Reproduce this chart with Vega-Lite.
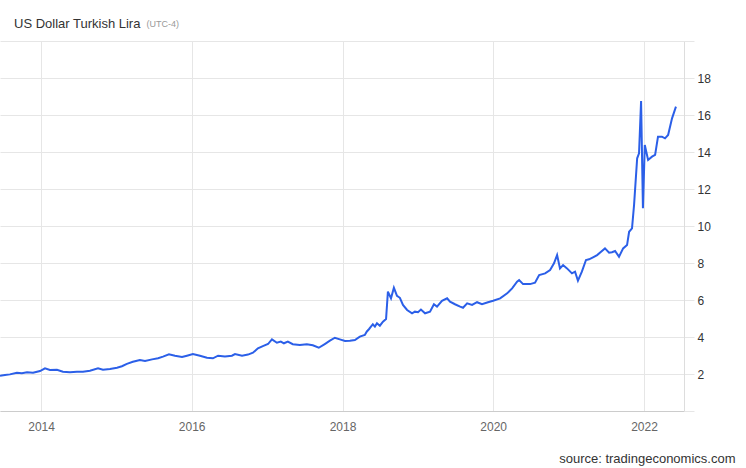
{
  "$schema": "https://vega.github.io/schema/vega-lite/v6.json",
  "width": 684,
  "height": 370,
  "autosize": {"type": "none"},
  "padding": {"left": 0, "top": 41, "right": 62, "bottom": 57},
  "background": "white",
  "title": {
    "text": "US Dollar Turkish Lira",
    "anchor": "start",
    "frame": "group",
    "font": "Liberation Sans",
    "fontSize": 13,
    "fontWeight": "normal",
    "color": "#333333",
    "baseline": "alphabetic",
    "dx": 14,
    "offset": 0,
    "dy": 22
  },
  "config": {
    "view": {"stroke": null},
    "font": "Liberation Sans"
  },
  "data": {
    "values": [
      {"d": "2013-06-16", "v": 1.91}, {"d": "2013-07-10", "v": 1.95}, {"d": "2013-08-03", "v": 1.98},
      {"d": "2013-09-06", "v": 2.07}, {"d": "2013-09-30", "v": 2.04}, {"d": "2013-10-25", "v": 2.09},
      {"d": "2013-11-23", "v": 2.07}, {"d": "2013-12-27", "v": 2.16}, {"d": "2014-01-20", "v": 2.31},
      {"d": "2014-02-13", "v": 2.22}, {"d": "2014-03-19", "v": 2.23}, {"d": "2014-04-17", "v": 2.12},
      {"d": "2014-05-21", "v": 2.09}, {"d": "2014-06-24", "v": 2.12}, {"d": "2014-07-23", "v": 2.12},
      {"d": "2014-08-26", "v": 2.18}, {"d": "2014-10-04", "v": 2.31}, {"d": "2014-10-28", "v": 2.23},
      {"d": "2014-12-01", "v": 2.27}, {"d": "2015-01-04", "v": 2.34}, {"d": "2015-01-28", "v": 2.42},
      {"d": "2015-02-21", "v": 2.55}, {"d": "2015-03-22", "v": 2.66}, {"d": "2015-04-25", "v": 2.76},
      {"d": "2015-05-20", "v": 2.70}, {"d": "2015-06-23", "v": 2.79}, {"d": "2015-07-22", "v": 2.85},
      {"d": "2015-08-15", "v": 2.94}, {"d": "2015-09-13", "v": 3.06}, {"d": "2015-10-12", "v": 2.99},
      {"d": "2015-11-15", "v": 2.92}, {"d": "2015-12-09", "v": 2.99}, {"d": "2016-01-07", "v": 3.08},
      {"d": "2016-02-10", "v": 2.99}, {"d": "2016-03-15", "v": 2.88}, {"d": "2016-04-13", "v": 2.85},
      {"d": "2016-05-08", "v": 2.99}, {"d": "2016-06-10", "v": 2.94}, {"d": "2016-07-14", "v": 2.99},
      {"d": "2016-07-29", "v": 3.08}, {"d": "2016-09-01", "v": 2.99}, {"d": "2016-09-30", "v": 3.05},
      {"d": "2016-10-24", "v": 3.15}, {"d": "2016-11-17", "v": 3.39}, {"d": "2016-12-11", "v": 3.51},
      {"d": "2017-01-05", "v": 3.62}, {"d": "2017-01-24", "v": 3.87}, {"d": "2017-02-17", "v": 3.69},
      {"d": "2017-03-08", "v": 3.75}, {"d": "2017-03-23", "v": 3.66}, {"d": "2017-04-11", "v": 3.75},
      {"d": "2017-05-05", "v": 3.61}, {"d": "2017-06-08", "v": 3.57}, {"d": "2017-07-12", "v": 3.61},
      {"d": "2017-08-10", "v": 3.55}, {"d": "2017-09-08", "v": 3.42}, {"d": "2017-10-07", "v": 3.62},
      {"d": "2017-11-01", "v": 3.80}, {"d": "2017-11-25", "v": 3.96}, {"d": "2017-12-19", "v": 3.87},
      {"d": "2018-01-13", "v": 3.78}, {"d": "2018-02-06", "v": 3.80}, {"d": "2018-03-02", "v": 3.84},
      {"d": "2018-03-26", "v": 4.02}, {"d": "2018-04-19", "v": 4.11}, {"d": "2018-04-29", "v": 4.30},
      {"d": "2018-05-09", "v": 4.42}, {"d": "2018-05-28", "v": 4.69}, {"d": "2018-06-07", "v": 4.56},
      {"d": "2018-06-17", "v": 4.74}, {"d": "2018-07-01", "v": 4.61}, {"d": "2018-07-16", "v": 4.83},
      {"d": "2018-07-31", "v": 4.97}, {"d": "2018-08-09", "v": 6.45}, {"d": "2018-08-24", "v": 6.09},
      {"d": "2018-09-07", "v": 6.66}, {"d": "2018-09-22", "v": 6.23}, {"d": "2018-10-06", "v": 6.12},
      {"d": "2018-10-21", "v": 5.73}, {"d": "2018-11-10", "v": 5.46}, {"d": "2018-12-04", "v": 5.28},
      {"d": "2018-12-18", "v": 5.37}, {"d": "2019-01-02", "v": 5.34}, {"d": "2019-01-16", "v": 5.48},
      {"d": "2019-02-05", "v": 5.28}, {"d": "2019-03-01", "v": 5.37}, {"d": "2019-03-20", "v": 5.77},
      {"d": "2019-04-04", "v": 5.64}, {"d": "2019-04-28", "v": 5.95}, {"d": "2019-05-23", "v": 6.09},
      {"d": "2019-06-06", "v": 5.91}, {"d": "2019-06-30", "v": 5.77}, {"d": "2019-07-25", "v": 5.64},
      {"d": "2019-08-08", "v": 5.58}, {"d": "2019-08-28", "v": 5.82}, {"d": "2019-09-21", "v": 5.73},
      {"d": "2019-10-15", "v": 5.88}, {"d": "2019-11-08", "v": 5.77}, {"d": "2019-12-07", "v": 5.88},
      {"d": "2020-01-01", "v": 5.96}, {"d": "2020-02-04", "v": 6.09}, {"d": "2020-03-09", "v": 6.36},
      {"d": "2020-04-02", "v": 6.63}, {"d": "2020-04-26", "v": 6.99}, {"d": "2020-05-06", "v": 7.08},
      {"d": "2020-05-25", "v": 6.86}, {"d": "2020-06-28", "v": 6.86}, {"d": "2020-07-22", "v": 6.94},
      {"d": "2020-08-11", "v": 7.35}, {"d": "2020-09-09", "v": 7.44}, {"d": "2020-10-03", "v": 7.62},
      {"d": "2020-10-22", "v": 7.98}, {"d": "2020-11-06", "v": 8.43}, {"d": "2020-11-20", "v": 7.71},
      {"d": "2020-12-05", "v": 7.89}, {"d": "2020-12-24", "v": 7.71}, {"d": "2021-01-17", "v": 7.44},
      {"d": "2021-02-01", "v": 7.53}, {"d": "2021-02-15", "v": 7.04}, {"d": "2021-03-06", "v": 7.53},
      {"d": "2021-03-26", "v": 8.16}, {"d": "2021-04-10", "v": 8.20}, {"d": "2021-04-29", "v": 8.31},
      {"d": "2021-05-19", "v": 8.43}, {"d": "2021-06-07", "v": 8.61}, {"d": "2021-06-26", "v": 8.79},
      {"d": "2021-07-16", "v": 8.56}, {"d": "2021-07-30", "v": 8.58}, {"d": "2021-08-14", "v": 8.65},
      {"d": "2021-09-02", "v": 8.34}, {"d": "2021-09-22", "v": 8.79}, {"d": "2021-10-11", "v": 8.97},
      {"d": "2021-10-21", "v": 9.69}, {"d": "2021-11-04", "v": 9.87}, {"d": "2021-11-14", "v": 11.14},
      {"d": "2021-11-29", "v": 13.66}, {"d": "2021-12-08", "v": 13.93}, {"d": "2021-12-18", "v": 16.76},
      {"d": "2021-12-27", "v": 10.96}, {"d": "2022-01-05", "v": 14.38}, {"d": "2022-01-21", "v": 13.57},
      {"d": "2022-02-09", "v": 13.75}, {"d": "2022-02-24", "v": 13.84}, {"d": "2022-03-10", "v": 14.83},
      {"d": "2022-03-29", "v": 14.83}, {"d": "2022-04-13", "v": 14.74}, {"d": "2022-04-28", "v": 14.92},
      {"d": "2022-05-17", "v": 15.82}, {"d": "2022-06-05", "v": 16.45}
    ]
  },
  "mark": {"type": "line", "color": "#2b5fe8", "strokeWidth": 2, "interpolate": "linear"},
  "encoding": {
    "x": {
      "field": "d",
      "type": "temporal",
      "scale": {"domain": [{"year": 2013, "month": 6, "date": 16}, {"year": 2022, "month": 7, "date": 14}], "nice": false},
      "axis": {
        "values": [{"year": 2014}, {"year": 2016}, {"year": 2018}, {"year": 2020}, {"year": 2022}],
        "format": "%Y",
        "grid": true,
        "gridColor": "#e6e6e6",
        "ticks": false,
        "domainColor": "#cccccc",
        "labelFontSize": 12,
        "labelColor": "#666666",
        "labelPadding": 10,
        "labelFont": "Liberation Sans",
        "title": "source: tradingeconomics.com",
        "titleFont": "Liberation Sans",
        "titleFontSize": 13,
        "titleFontWeight": "normal",
        "titleColor": "#333333",
        "titleAlign": "right",
        "titleBaseline": "alphabetic",
        "titleX": 735,
        "titleY": 51
      }
    },
    "y": {
      "field": "v",
      "type": "quantitative",
      "scale": {"domain": [0, 20], "nice": false, "zero": true},
      "axis": {
        "orient": "right",
        "values": [0, 2, 4, 6, 8, 10, 12, 14, 16, 18, 20],
        "labelExpr": "datum.value == 0 || datum.value == 20 ? '' : datum.label",
        "grid": true,
        "gridColor": "#e6e6e6",
        "tickColor": "#e6e6e6",
        "tickSize": 10,
        "domainColor": "#dddddd",
        "labelFontSize": 12,
        "labelColor": "#333333",
        "labelPadding": 3,
        "labelFont": "Liberation Sans",
        "title": "(UTC-4)",
        "titleFont": "Liberation Sans",
        "titleFontSize": 9,
        "titleFontWeight": "normal",
        "titleColor": "#999999",
        "titleAngle": 0,
        "titleAlign": "left",
        "titleBaseline": "alphabetic",
        "titleX": -538,
        "titleY": -15
      }
    }
  }
}
